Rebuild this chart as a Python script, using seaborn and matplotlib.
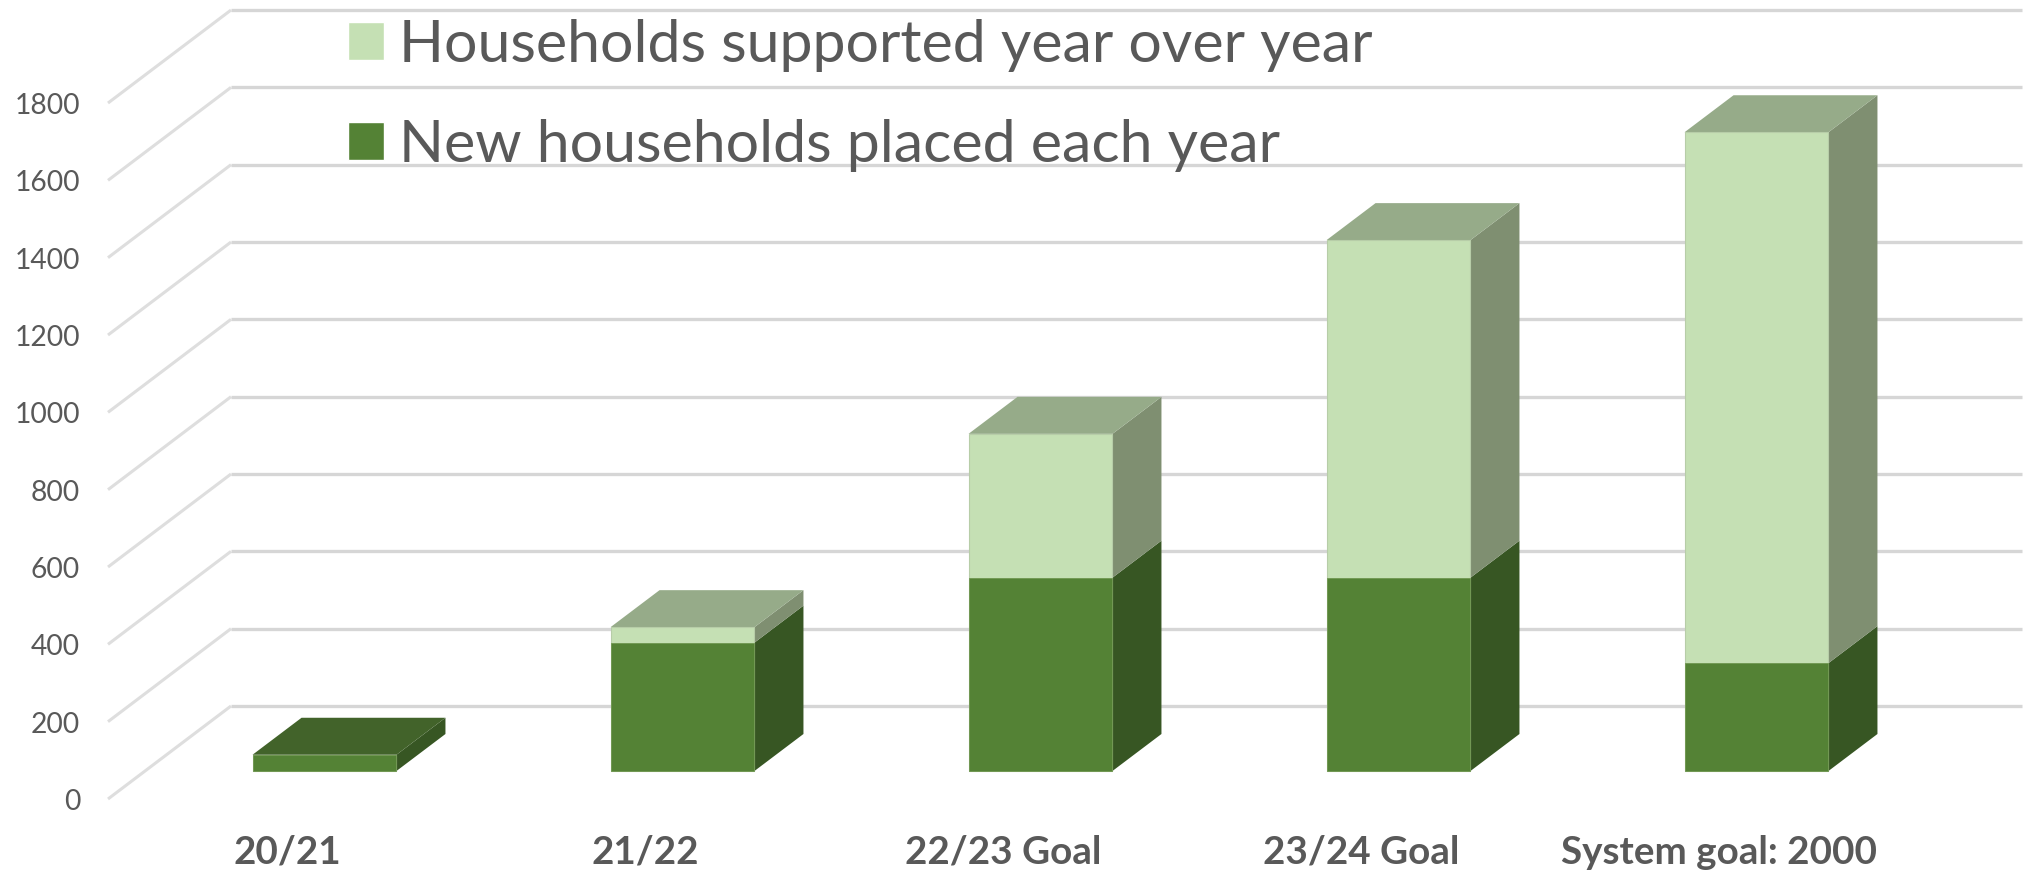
import matplotlib
matplotlib.use('Agg')
import matplotlib.pyplot as plt
from matplotlib.patches import Patch, Polygon
import pandas as pd
import numpy as np
import seaborn as sns

sns.set_theme(style="white")
plt.rcParams['font.family'] = ['Lato', 'DejaVu Sans']

categories = ['20/21', '21/22', '22/23 Goal', '23/24 Goal', 'System goal: 2000']
new_households = [42, 332, 500, 500, 279]
supported = [0, 40, 372, 873, 1373]
y_ticks = [0, 200, 400, 600, 800, 1000, 1200, 1400, 1600, 1800]
legend_labels = ['Households supported year over year', 'New households placed each year']

GREY = '#595959'
LIGHT = '#C5E0B4'
GREEN = '#548235'
LIGHT_SIDE = '#7F8F71'
LIGHT_TOP = '#96AB89'
GREEN_SIDE = '#375623'
GREEN_TOP = '#42632A'

# px per unit, the image is laid out in pixels
W, H = 2027, 874
px_y = 77.33 / 200
px_x = 358.0
x0_px = 324.5
base_px = 771


def x_pos(px):
    return (px - x0_px) / px_x


depth_x = 49 / px_x
depth_y = 37 / px_y
front_wall = (base_px - 799) / px_y
back_wall = (base_px - 706) / px_y
label_shift = 3 / px_y

fig = plt.figure(figsize=(W / 100, H / 100), dpi=100)
ax = fig.add_axes([0, 0, 1, 1])

df = pd.DataFrame({'cat': categories, 'new': new_households, 'sup': supported})
df['total'] = df['new'] + df['sup']

# walls
for v in y_ticks:
    ax.plot([x_pos(108), x_pos(231)], [v + front_wall, v + back_wall], color='#DEDEDE', lw=2.2, zorder=1,
            solid_capstyle='butt')
    ax.plot([x_pos(231), x_pos(2022)], [v + back_wall, v + back_wall], color='#D6D6D6', lw=2.4, zorder=1,
            solid_capstyle='butt')
    ax.text(x_pos(80), v + front_wall - label_shift, str(v), ha='right', va='center', fontsize=20.3, color=GREY)

# stacked fronts
sns.barplot(data=df, x='cat', y='total', color=LIGHT, saturation=1, width=0.402, ax=ax, zorder=4,
            edgecolor='#B7CDA8', linewidth=0.8)
sns.barplot(data=df, x='cat', y='new', color=GREEN, saturation=1, width=0.402, ax=ax, zorder=5,
            edgecolor='#6F9650', linewidth=0.6)

# side and top faces
hw = 0.402 / 2
for i in range(len(categories)):
    n = new_households[i]
    t = n + supported[i]
    r = i + hw
    l = i - hw
    ax.add_patch(Polygon([(r, 0), (r + depth_x, depth_y), (r + depth_x, n + depth_y), (r, n)],
                         facecolor=GREEN_SIDE, edgecolor='none', zorder=3))
    if supported[i] > 0:
        ax.add_patch(Polygon([(r, n), (r + depth_x, n + depth_y), (r + depth_x, t + depth_y), (r, t)],
                             facecolor=LIGHT_SIDE, edgecolor='none', zorder=3))
    top = LIGHT_TOP if supported[i] > 0 else GREEN_TOP
    ax.add_patch(Polygon([(l, t), (l + depth_x, t + depth_y), (r + depth_x, t + depth_y), (r, t)],
                         facecolor=top, edgecolor='none', zorder=3))
    ax.text(i - 0.105, (base_px - 852) / px_y, categories[i], ha='center', va='center', fontsize=27.8,
            fontweight='bold', color=GREY)

ax.set_xlim(x_pos(0), x_pos(W))
ax.set_ylim((base_px - H) / px_y, base_px / px_y)
ax.set_xlabel('')
ax.set_ylabel('')
ax.axis('off')

handles = [Patch(facecolor=LIGHT, label=legend_labels[0]), Patch(facecolor=GREEN, label=legend_labels[1])]
leg = ax.legend(handles=handles, loc='upper left', bbox_to_anchor=(348 / W, 1 - 19 / H), frameon=False,
                fontsize=42.5, handlelength=0.61, handleheight=0.61, handletextpad=0.25, labelspacing=0.8,
                borderpad=0, borderaxespad=0, labelcolor=GREY)
leg.set_zorder(6)

fig.savefig('out.png', dpi=100, facecolor='white')
